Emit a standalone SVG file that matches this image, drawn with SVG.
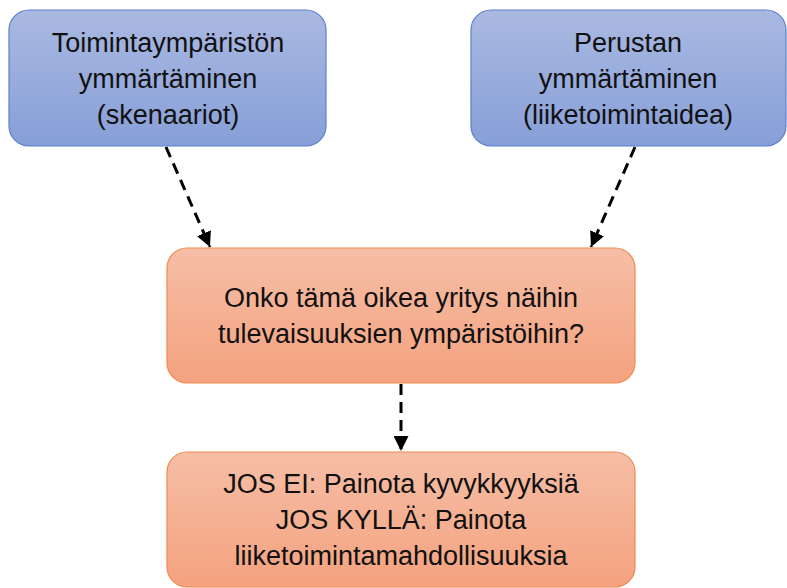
<svg xmlns="http://www.w3.org/2000/svg" width="787" height="588" viewBox="0 0 787 588">
  <defs>
    <linearGradient id="blueFill" x1="0" y1="0" x2="0" y2="1">
      <stop offset="0" stop-color="#aab9e1"/>
      <stop offset="1" stop-color="#879fd8"/>
    </linearGradient>
    <linearGradient id="orangeFill" x1="0" y1="0" x2="0" y2="1">
      <stop offset="0" stop-color="#f6bea6"/>
      <stop offset="1" stop-color="#f4a27f"/>
    </linearGradient>
    <marker id="arrowHead" viewBox="0 0 10 10" refX="10" refY="5" markerWidth="5" markerHeight="5" markerUnits="strokeWidth" orient="auto">
      <path d="M0,0 L10,5 L0,10 Z" fill="#000"/>
    </marker>
  </defs>
  <style>
    .blue { fill: url(#blueFill); stroke: #5a7fcf; stroke-width: 1.2; }
    .orange { fill: url(#orangeFill); stroke: #ef8a4e; stroke-width: 1.2; }
    .label { font-family: "Liberation Sans", Arial, sans-serif; font-size: 27px; fill: #111; text-anchor: middle; }
    .conn { stroke: #000; stroke-width: 3; stroke-dasharray: 11 7; fill: none; marker-end: url(#arrowHead); }
  </style>

  <rect width="787" height="588" fill="#fff"/>

  <g id="connectors">
    <line class="conn" x1="166" y1="147" x2="210" y2="247"/>
    <line class="conn" x1="635" y1="147" x2="591" y2="247"/>
    <line class="conn" x1="401" y1="384" x2="401" y2="451"/>
  </g>

  <g id="node-toimintaymparisto">
    <rect class="blue" x="9" y="10" width="317" height="136" rx="20"/>
    <text class="label" x="168" y="52">Toimintaympäristön</text>
    <text class="label" x="168" y="88">ymmärtäminen</text>
    <text class="label" x="168" y="124">(skenaariot)</text>
  </g>

  <g id="node-perusta">
    <rect class="blue" x="471" y="10" width="315" height="136" rx="20"/>
    <text class="label" x="628" y="52">Perustan</text>
    <text class="label" x="628" y="88">ymmärtäminen</text>
    <text class="label" x="628" y="124">(liiketoimintaidea)</text>
  </g>

  <g id="node-kysymys">
    <rect class="orange" x="167" y="248" width="468" height="135" rx="20"/>
    <text class="label" x="401" y="307">Onko tämä oikea yritys näihin</text>
    <text class="label" x="401" y="343">tulevaisuuksien ympäristöihin?</text>
  </g>

  <g id="node-painotus">
    <rect class="orange" x="167" y="452" width="468" height="135" rx="20"/>
    <text class="label" x="401" y="493">JOS EI: Painota kyvykkyyksiä</text>
    <text class="label" x="401" y="529">JOS KYLLÄ: Painota</text>
    <text class="label" x="401" y="565">liiketoimintamahdollisuuksia</text>
  </g>
</svg>
